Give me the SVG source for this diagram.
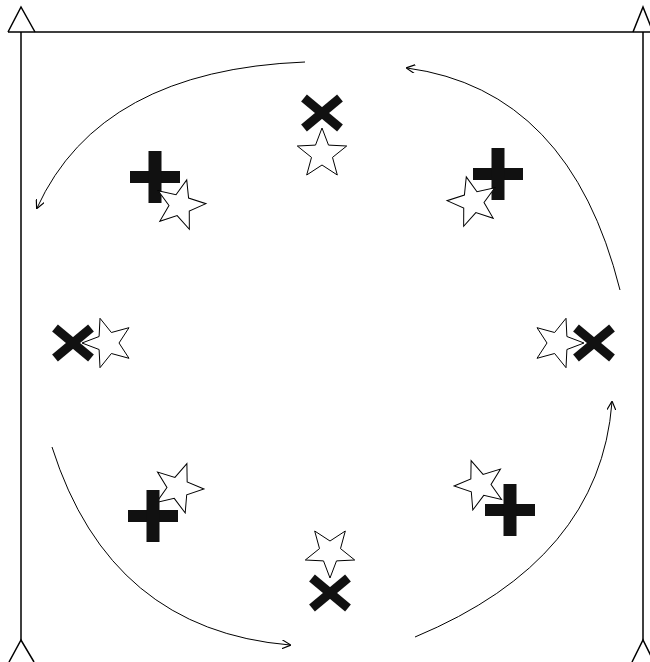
<svg xmlns="http://www.w3.org/2000/svg" xmlns:xlink="http://www.w3.org/1999/xlink" width="650" height="662" viewBox="0 0 650 662">
<style>
.frame{fill:none;stroke:#000;stroke-width:1.5}
.arc{fill:none;stroke:#000;stroke-width:1}
.star{fill:#fff;stroke:#000;stroke-width:1}
.xm{stroke:#111;stroke-width:9;stroke-linecap:butt}
.pl{fill:#111}
</style>
<defs>
<marker id="ah" viewBox="0 0 10 10" refX="9" refY="5" markerWidth="9" markerHeight="9" orient="auto" markerUnits="userSpaceOnUse">
<path d="M0,0 L10,5 L0,10" fill="none" stroke="#000" stroke-width="1.3"/>
</marker>
<polygon id="star" class="star" points="0,-26 6.5,-8.9 24.7,-8 10.5,3.4 15.3,21 0,11 -15.3,21 -10.5,3.4 -24.7,-8 -6.5,-8.9"/>
<g id="xx"><line class="xm" x1="-18" y1="-15" x2="18" y2="15"/><line class="xm" x1="18" y1="-15" x2="-18" y2="15"/></g>
<g id="plus"><rect class="pl" x="-25" y="-6" width="50" height="12"/><rect class="pl" x="-6.5" y="-26" width="13" height="52"/></g>
</defs>
<rect width="650" height="662" fill="#fff"/>
<g id="field">
<path class="frame" d="M8,32 H650 M21,32 V640 M643,32 V640"/>
<path class="frame" d="M8,32 L21,7 L35,32 M633,32 L643,7 L653,32"/>
<path class="frame" d="M9,662 L21,640 L34,662 M632,662 L643,640 L654,662"/>
</g>
<g id="connectors">
<path class="arc" d="M305,62 Q100,70 37,208" marker-end="url(#ah)"/>
<path class="arc" d="M620,290 Q570,90 407,68" marker-end="url(#ah)"/>
<path class="arc" d="M415,637 Q600,560 612,402" marker-end="url(#ah)"/>
<path class="arc" d="M52,447 Q110,630 290,645" marker-end="url(#ah)"/>
</g>
<g id="n-top"><use href="#xx" x="322" y="113"/><use href="#star" transform="translate(322,154)"/></g>
<g id="n-topleft"><use href="#plus" x="155" y="177"/><use href="#star" transform="translate(180,205) rotate(15)"/></g>
<g id="n-topright"><use href="#plus" x="498" y="174"/><use href="#star" transform="translate(473,202) rotate(-15)"/></g>
<g id="n-left"><use href="#xx" x="73" y="343"/><use href="#star" transform="translate(108,343) rotate(-90)"/></g>
<g id="n-right"><use href="#star" transform="translate(558,343) rotate(90)"/><use href="#xx" x="594" y="343"/></g>
<g id="n-bottomleft"><use href="#star" transform="translate(178,488) rotate(20)"/><use href="#plus" x="153" y="516"/></g>
<g id="n-bottomright"><use href="#star" transform="translate(480,485) rotate(-20)"/><use href="#plus" x="510" y="510"/></g>
<g id="n-bottom"><use href="#star" transform="translate(330,552) rotate(180)"/><use href="#xx" x="330" y="593"/></g>
</svg>
